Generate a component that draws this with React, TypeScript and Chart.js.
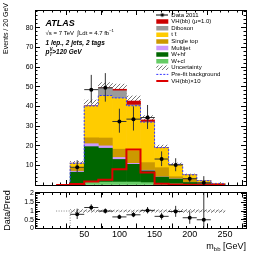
import React, { useEffect, useRef } from 'react';
import { Chart, registerables } from 'chart.js';

Chart.register(...registerables);

const FONT = "'Liberation Sans', Arial, Helvetica, sans-serif";

// ---------------- data ----------------
const binCenters = [40, 60, 80, 100, 120, 140, 160, 180, 200, 220, 240];
const binHalfWidth = 10;
const xRange = [10, 250];
const mainYRange = [0, 89];
const ratioYRange = [0, 2.06];

const wcl = [0.5, 1.5, 1.5, 1.5, 1.5, 1.2, 0.8, 0.6, 0.3, 0.2, 0.1];
const whf = [6.0, 18.0, 17.2, 11.5, 9.0, 6.0, 3.2, 2.4, 1.0, 0.5, 0.2];
const multijet = [0.5, 1.5, 1.2, 1.0, 0.5, 0.3, 0.1, 0.1, 0.0, 0.0, 0.0];
const singleTop = [1.5, 3.0, 4.0, 4.2, 6.2, 3.9, 4.7, 1.1, 2.0, 0.6, 0.2];
const ttbar = [2.3, 16.0, 21.3, 25.8, 23.0, 20.4, 10.0, 6.2, 1.8, 0.8, 0.3];
const diboson = [0.3, 0.3, 4.2, 3.9, 0.5, 0.2, 0.1, 0.1, 0.1, 0.1, 0.0];
const vhSignal = [0.0, 0.1, 0.1, 0.8, 2.0, 1.1, 0.1, 0.0, 0.0, 0.0, 0.0];
const bkgUncertainty = [0.9, 2.8, 2.6, 2.6, 2.6, 2.2, 1.3, 0.7, 0.4, 0.15, 0.06];
const prefitBackground = [11.0, 40.2, 45.5, 44.3, 40.3, 32.0, 19.0, 10.5, 5.2, 2.2, 0.8];
const vhTimes10 = [0.5, 1.8, 2.7, 8.0, 18.0, 6.4, 0.6, 0.2, 0.1, 0.1, 0.1];

const dataCenters = [40, 60, 80, 100, 120, 140, 160, 180, 200, 220];
const dataValues = [9.0, 48.5, 49.4, 32.3, 33.5, 34.3, 13.2, 10.2, 3.2, 1.1];
const dataErrUp = [3.6, 7.5, 7.5, 6.5, 6.5, 6.4, 3.9, 3.4, 1.9, 3.4];
const dataErrDown = [3.0, 7.0, 7.0, 5.7, 5.8, 5.8, 3.6, 3.2, 1.8, 1.0];

// ---------------- ticks ----------------
const xMajorTicks = [50, 100, 150, 200, 250];
const xMinorTicks = [20, 30, 40, 50, 60, 70, 80, 90, 100, 110, 120, 130, 140, 150, 160, 170, 180, 190, 200, 210, 220, 230, 240];
const mainYMajorTicks = [0, 10, 20, 30, 40, 50, 60, 70, 80];
const mainYMinorTicks = [2, 4, 6, 8, 10, 12, 14, 16, 18, 20, 22, 24, 26, 28, 30, 32, 34, 36, 38, 40, 42, 44, 46, 48, 50, 52, 54, 56, 58, 60, 62, 64, 66, 68, 70, 72, 74, 76, 78, 80, 82, 84, 86, 88];
const ratioYMajorTicks = [0, 0.5, 1, 1.5, 2];
const ratioYMinorTicks = [0.1, 0.2, 0.3, 0.4, 0.5, 0.6, 0.7, 0.8, 0.9, 1.0, 1.1, 1.2, 1.3, 1.4, 1.5, 1.6, 1.7, 1.8, 1.9, 2.0];

// ---------------- text ----------------
const legendLabels = ['Data 2011', 'VH(bb) (\u03bc=1.0)', 'Diboson', 't t\u0304', 'Single top', 'Multijet', 'W+hf', 'W+cl', 'Uncertainty', 'Pre-fit background', 'VH(bb)\u00d710'];
const atlasLabel = 'ATLAS';
const energyLabel = '\u221as = 7 TeV  \u222bLdt = 4.7 fb';
const channelLabel = '1 lep., 2 jets, 2 tags';
const yTitleMain = 'Events / 20 GeV';
const yTitleRatio = 'Data/Pred';

const COL = {
  vh: '#cc0000',
  diboson: '#9a9a9a',
  ttbar: '#ffcc00',
  stop: '#cc9900',
  multijet: '#cc99ff',
  whf: '#006600',
  wcl: '#66cc66',
  prefit: '#3333ff',
  vh10: '#dd0000',
};

// ---------------- helpers ----------------
const setTicks = (values: number[]) => (scale: any) => {
  scale.ticks = values.map((v) => ({ value: v }));
};
const tickGrid = (len: number) => ({ display: true, drawOnChartArea: false, drawTicks: true, tickLength: len, color: '#000', lineWidth: 1 });
const noTickGrid = { display: true, drawOnChartArea: false, drawTicks: false, color: '#000', lineWidth: 1 };
const frameBorder = (show: boolean) => ({ display: show, color: '#000', width: 1 });

// an axis drawing only inward tick marks (no labels, zero size in the layout)
function markAxis(position: string, min: number, max: number, ticks: number[], len: number, border: boolean, weight: number) {
  const horizontal = position === 'top' || position === 'bottom';
  return {
    type: 'linear',
    axis: horizontal ? 'x' : 'y',
    position,
    min,
    max,
    bounds: 'data',
    weight,
    z: 1,
    display: true,
    afterBuildTicks: setTicks(ticks),
    afterFit: (s: any) => {
      if (horizontal) s.height = 0;
      else s.width = 0;
    },
    ticks: { display: false },
    grid: tickGrid(len),
    border: frameBorder(border),
  };
}

type Part = { text: string; size: number; font?: string; dy?: number; advance?: boolean };
function drawParts(ctx: CanvasRenderingContext2D, parts: Part[], x: number, y: number, align: 'left' | 'right' = 'left') {
  const widths = parts.map((p) => {
    ctx.font = `${p.font || ''} ${p.size}px ${FONT}`;
    return ctx.measureText(p.text).width;
  });
  const total = parts.reduce((s, p, i) => s + (p.advance === false ? 0 : widths[i]), 0);
  let cx = align === 'right' ? x - total : x;
  ctx.textAlign = 'left';
  parts.forEach((p, i) => {
    ctx.font = `${p.font || ''} ${p.size}px ${FONT}`;
    ctx.fillText(p.text, cx, y + (p.dy || 0));
    if (p.advance !== false) cx += widths[i];
  });
}

function makeHatch(color: string) {
  const c = document.createElement('canvas');
  c.width = 4;
  c.height = 4;
  const g = c.getContext('2d')!;
  g.strokeStyle = color;
  g.lineWidth = 0.8;
  g.beginPath();
  g.moveTo(0, 4);
  g.lineTo(4, 0);
  g.moveTo(-1, 1);
  g.lineTo(1, -1);
  g.moveTo(3, 5);
  g.lineTo(5, 3);
  g.stroke();
  return g.createPattern(c, 'repeat');
}

function makeDataIcon() {
  const c = document.createElement('canvas');
  c.width = 12;
  c.height = 5;
  const g = c.getContext('2d')!;
  g.fillStyle = '#000';
  g.fillRect(0, 2, 12, 1);
  g.beginPath();
  g.arc(6, 2.5, 1.8, 0, Math.PI * 2);
  g.fill();
  return c;
}

function stepPoints(vals: number[], startX: number, closeToZero: boolean) {
  const pts: any[] = [{ x: startX, y: 0 }];
  binCenters.forEach((c, i) => pts.push({ x: c - binHalfWidth, y: vals[i] }));
  const last = binCenters.length - 1;
  pts.push({ x: binCenters[last] + binHalfWidth, y: vals[last] });
  if (closeToZero) pts.push({ x: binCenters[last] + binHalfWidth, y: 0 });
  return pts;
}

function errorSegments(centers: number[], vals: number[], up: number[], down: number[]) {
  const pts: any[] = [];
  centers.forEach((c, i) => {
    pts.push({ x: c, y: vals[i] - down[i] }, { x: c, y: vals[i] + up[i] }, { x: c, y: null });
    pts.push({ x: c - binHalfWidth, y: vals[i] }, { x: c + binHalfWidth, y: vals[i] }, { x: c, y: null });
  });
  return pts;
}

const legendPlacer = {
  id: 'legendPlacer',
  afterLayout(chart: any) {
    const lg = chart.legend;
    if (!lg) return;
    lg.left = 155.7;
    lg.top = 11.4;
    lg.right = chart.chartArea.right;
    lg.bottom = chart.chartArea.bottom;
    lg.width = lg.right - lg.left;
    lg.height = lg.bottom - lg.top;
  },
};

const mainTextPlugin = {
  id: 'mainText',
  afterDraw(chart: any) {
    const ctx: CanvasRenderingContext2D = chart.ctx;
    ctx.save();
    ctx.fillStyle = '#000';
    ctx.textBaseline = 'alphabetic';
    drawParts(ctx, [{ text: atlasLabel, size: 9, font: 'italic bold' }], 45.5, 25.5);
    drawParts(ctx, [{ text: energyLabel, size: 6 }, { text: '\u22121', size: 4.2, dy: -2.7 }], 45.5, 34.5);
    drawParts(ctx, [{ text: channelLabel, size: 6.5, font: 'italic bold' }], 45.5, 44.5);
    drawParts(
      ctx,
      [
        { text: 'p', size: 6.5, font: 'italic bold' },
        { text: 'V', size: 4.5, font: 'italic bold', dy: -3, advance: false },
        { text: 'T', size: 4.5, font: 'italic bold', dy: 1.5 },
        { text: '>120 GeV', size: 6.5, font: 'italic bold' },
      ],
      45.5,
      54
    );
    ctx.translate(6.5, 3);
    ctx.rotate(-Math.PI / 2);
    ctx.textAlign = 'right';
    ctx.textBaseline = 'middle';
    ctx.font = `7px ${FONT}`;
    ctx.fillText(yTitleMain, 0, 0);
    ctx.restore();
  },
};

const ratioTextPlugin = {
  id: 'ratioText',
  afterDraw(chart: any) {
    const ctx: CanvasRenderingContext2D = chart.ctx;
    ctx.save();
    ctx.fillStyle = '#000';
    ctx.textBaseline = 'alphabetic';
    drawParts(
      ctx,
      [
        { text: 'm', size: 9 },
        { text: 'bb', size: 6, dy: 2 },
        { text: ' [GeV]', size: 9 },
      ],
      246,
      61,
      'right'
    );
    ctx.restore();
  },
};

function frameScales(yMin: number, yMax: number, yMajor: number[], yMinor: number[], xMajorLen: number) {
  return {
    xMajor: markAxis('bottom', xRange[0], xRange[1], xMajorTicks, xMajorLen, false, 0),
    xMinor: markAxis('bottom', xRange[0], xRange[1], xMinorTicks, xMajorLen / 2, false, 0),
    xTop: markAxis('top', xRange[0], xRange[1], xMajorTicks, xMajorLen, true, 1),
    xTopMinor: markAxis('top', xRange[0], xRange[1], xMinorTicks, xMajorLen / 2, false, 0),
    yMajor: markAxis('left', yMin, yMax, yMajor, -5, false, 2),
    yMinor: markAxis('left', yMin, yMax, yMinor, -2.5, false, 1),
    yRight: markAxis('right', yMin, yMax, yMajor, -5, true, 0),
    yRightMinor: markAxis('right', yMin, yMax, yMinor, -2.5, false, 1),
  };
}

export default function App() {
  const mainRef = useRef<HTMLCanvasElement | null>(null);
  const ratioRef = useRef<HTMLCanvasElement | null>(null);

  useEffect(() => {
    if (!mainRef.current || !ratioRef.current) return;
    Chart.defaults.font.family = FONT;
    const hatch = makeHatch('#555555');
    const dataIcon = makeDataIcon();

    const total = binCenters.map(
      (_, i) => wcl[i] + whf[i] + multijet[i] + singleTop[i] + ttbar[i] + diboson[i] + vhSignal[i]
    );

    const barCommon = {
      type: 'bar',
      xAxisID: 'x',
      grouped: false,
      barPercentage: 1,
      categoryPercentage: 1,
      borderWidth: 0,
    };

    const stackDefs = [
      { label: 'W+cl', values: wcl, color: COL.wcl },
      { label: 'W+hf', values: whf, color: COL.whf },
      { label: 'Multijet', values: multijet, color: COL.multijet },
      { label: 'Single top', values: singleTop, color: COL.stop },
      { label: 'ttbar', values: ttbar, color: COL.ttbar },
      { label: 'Diboson', values: diboson, color: COL.diboson },
      { label: 'VH', values: vhSignal, color: COL.vh },
    ];

    const stackDatasets = stackDefs.map((d, k) => ({
      ...barCommon,
      label: d.label,
      yAxisID: 'y',
      order: 10 + k,
      backgroundColor: d.color,
      data: binCenters.map((c, i) => ({ x: c, y: d.values[i] })),
    }));

    const legendItems = [
      { text: legendLabels[0], pointStyle: dataIcon, fillStyle: 'rgba(0,0,0,0)', strokeStyle: '#000', lineWidth: 0 },
      { text: legendLabels[1], pointStyle: 'rect', fillStyle: COL.vh, strokeStyle: COL.vh, lineWidth: 0 },
      { text: legendLabels[2], pointStyle: 'rect', fillStyle: COL.diboson, strokeStyle: COL.diboson, lineWidth: 0 },
      { text: legendLabels[3], pointStyle: 'rect', fillStyle: COL.ttbar, strokeStyle: COL.ttbar, lineWidth: 0 },
      { text: legendLabels[4], pointStyle: 'rect', fillStyle: COL.stop, strokeStyle: COL.stop, lineWidth: 0 },
      { text: legendLabels[5], pointStyle: 'rect', fillStyle: COL.multijet, strokeStyle: COL.multijet, lineWidth: 0 },
      { text: legendLabels[6], pointStyle: 'rect', fillStyle: COL.whf, strokeStyle: COL.whf, lineWidth: 0 },
      { text: legendLabels[7], pointStyle: 'rect', fillStyle: COL.wcl, strokeStyle: COL.wcl, lineWidth: 0 },
      { text: legendLabels[8], pointStyle: 'rect', fillStyle: hatch, strokeStyle: '#555', lineWidth: 0 },
      { text: legendLabels[9], pointStyle: 'line', fillStyle: COL.prefit, strokeStyle: COL.prefit, lineWidth: 1, lineDash: [2, 1.5] },
      { text: legendLabels[10], pointStyle: 'line', fillStyle: COL.vh10, strokeStyle: COL.vh10, lineWidth: 2 },
    ].map((it, i) => ({ fontColor: '#000', hidden: false, datasetIndex: 0, index: i, ...it }));

    const mainChart = new Chart(mainRef.current, {
      type: 'bar',
      data: {
        datasets: [
          {
            type: 'line',
            label: 'Data 2011',
            xAxisID: 'x',
            yAxisID: 'y2',
            order: 0,
            showLine: false,
            pointRadius: 2,
            pointBackgroundColor: '#000',
            pointBorderColor: '#000',
            pointBorderWidth: 0,
            data: dataCenters.map((c, i) => ({ x: c, y: dataValues[i] })),
          },
          {
            type: 'line',
            label: 'data errors',
            xAxisID: 'x',
            yAxisID: 'y2',
            order: 1,
            borderColor: '#333',
            borderWidth: 1,
            pointRadius: 0,
            spanGaps: false,
            data: errorSegments(dataCenters, dataValues, dataErrUp, dataErrDown),
          },
          {
            type: 'line',
            label: 'VH x10',
            xAxisID: 'x',
            yAxisID: 'y2',
            order: 2,
            stepped: true,
            borderColor: COL.vh10,
            borderWidth: 2,
            pointRadius: 0,
            fill: false,
            data: stepPoints(vhTimes10, xRange[0], false),
          },
          {
            type: 'line',
            label: 'Pre-fit',
            xAxisID: 'x',
            yAxisID: 'y2',
            order: 3,
            stepped: true,
            borderColor: COL.prefit,
            borderWidth: 1,
            borderDash: [2, 1.5],
            pointRadius: 0,
            fill: false,
            data: stepPoints(prefitBackground, 30, true),
          },
          ...stackDatasets,
          {
            ...barCommon,
            label: 'Uncertainty',
            yAxisID: 'y2',
            order: 30,
            backgroundColor: hatch,
            data: binCenters.map((c, i) => ({ x: c, y: [total[i] - bkgUncertainty[i], total[i] + bkgUncertainty[i]] })),
          },
        ] as any,
      },
      options: {
        responsive: false,
        animation: false,
        events: [],
        layout: { padding: { left: 0, right: 20, top: 10, bottom: 2 } },
        plugins: {
          tooltip: { enabled: false },
          legend: {
            display: true,
            position: 'chartArea',
            align: 'start',
            labels: {
              usePointStyle: true,
              pointStyleWidth: 12,
              boxHeight: 4.5,
              padding: 0.6,
              color: '#000',
              font: { family: FONT, size: 6 },
              generateLabels: () => legendItems,
            },
          },
        },
        scales: {
          x: {
            type: 'linear',
            position: 'bottom',
            min: xRange[0],
            max: xRange[1],
            bounds: 'data',
            weight: 1,
            z: 1,
            afterBuildTicks: setTicks(xMajorTicks),
            afterFit: (s: any) => {
              s.height = 0;
            },
            ticks: { display: false },
            grid: noTickGrid,
            border: frameBorder(true),
          },
          y: {
            type: 'linear',
            position: 'left',
            stacked: true,
            min: mainYRange[0],
            max: mainYRange[1],
            bounds: 'data',
            weight: 3,
            z: 1,
            afterBuildTicks: setTicks(mainYMajorTicks),
            afterFit: (s: any) => {
              s.width = 35;
            },
            ticks: {
              display: true,
              autoSkip: false,
              padding: 1.5,
              color: '#000',
              font: { family: FONT, size: 7, lineHeight: 1 },
              callback: (v: any) => (v === 0 ? '' : String(v)),
            },
            grid: noTickGrid,
            border: frameBorder(true),
          },
          y2: { type: 'linear', position: 'left', display: false, min: mainYRange[0], max: mainYRange[1], bounds: 'data', weight: 0 },
          ...frameScales(mainYRange[0], mainYRange[1], mainYMajorTicks, mainYMinorTicks, -5),
        } as any,
      },
      plugins: [legendPlacer, mainTextPlugin],
    } as any);

    // ---------- ratio panel ----------
    const ratio = dataValues.map((v, i) => v / total[i]);
    const ratioUp = dataErrUp.map((e, i) => e / total[i]);
    const ratioDown = dataErrDown.map((e, i) => e / total[i]);
    const relUnc = bkgUncertainty.map((u, i) => u / total[i]);

    const ratioChart = new Chart(ratioRef.current, {
      type: 'bar',
      data: {
        datasets: [
          {
            type: 'line',
            label: 'ratio',
            xAxisID: 'x',
            yAxisID: 'y',
            order: 0,
            showLine: false,
            pointRadius: 2,
            pointBackgroundColor: '#000',
            pointBorderColor: '#000',
            pointBorderWidth: 0,
            data: dataCenters.map((c, i) => ({ x: c, y: ratio[i] })),
          },
          {
            type: 'line',
            label: 'ratio errors',
            xAxisID: 'x',
            yAxisID: 'y',
            order: 1,
            borderColor: '#333',
            borderWidth: 1,
            pointRadius: 0,
            spanGaps: false,
            data: errorSegments(dataCenters, ratio, ratioUp, ratioDown),
          },
          {
            type: 'line',
            label: 'unity',
            xAxisID: 'x',
            yAxisID: 'y',
            order: 5,
            borderColor: '#888',
            borderWidth: 1,
            borderDash: [1, 1.5],
            pointRadius: 0,
            spanGaps: false,
            data: [
              { x: xRange[0], y: 1 },
              { x: xRange[1], y: 1 },
              { x: 30, y: null },
              { x: 30, y: 0 },
              { x: 30, y: 1 },
            ],
          },
          {
            ...barCommon,
            label: 'band',
            yAxisID: 'y',
            order: 30,
            backgroundColor: hatch,
            data: binCenters.map((c, i) => ({ x: c, y: [1 - relUnc[i], 1 + relUnc[i]] })),
          },
        ] as any,
      },
      options: {
        responsive: false,
        animation: false,
        events: [],
        layout: { padding: { left: 0, right: 20, top: 4.5, bottom: 0 } },
        plugins: { tooltip: { enabled: false }, legend: { display: false } },
        scales: {
          x: {
            type: 'linear',
            position: 'bottom',
            min: xRange[0],
            max: xRange[1],
            bounds: 'data',
            weight: 1,
            z: 1,
            afterBuildTicks: setTicks(xMajorTicks),
            afterFit: (s: any) => {
              s.height = 26.5;
            },
            ticks: {
              display: true,
              autoSkip: false,
              maxRotation: 0,
              padding: 2,
              color: '#000',
              font: { family: FONT, size: 9, lineHeight: 1 },
              callback: (v: any) => String(v),
            },
            grid: noTickGrid,
            border: frameBorder(true),
          },
          y: {
            type: 'linear',
            position: 'left',
            min: ratioYRange[0],
            max: ratioYRange[1],
            bounds: 'data',
            weight: 3,
            z: 1,
            afterBuildTicks: setTicks(ratioYMajorTicks),
            afterFit: (s: any) => {
              s.width = 35;
            },
            ticks: {
              display: true,
              autoSkip: false,
              padding: 1,
              color: '#000',
              font: { family: FONT, size: 7, lineHeight: 1 },
              callback: (v: any) => String(v),
            },
            grid: noTickGrid,
            border: frameBorder(true),
            title: {
              display: true,
              text: yTitleRatio,
              align: 'center',
              color: '#000',
              font: { family: FONT, size: 9 },
              padding: { top: 2.5, bottom: 0 },
            },
          },
          ...frameScales(ratioYRange[0], ratioYRange[1], ratioYMajorTicks, ratioYMinorTicks, -5),
        } as any,
      },
      plugins: [ratioTextPlugin],
    } as any);

    return () => {
      mainChart.destroy();
      ratioChart.destroy();
    };
  }, []);

  return (
    <div style={{ position: 'absolute', left: 0, top: 0, width: 266, height: 255, background: '#fff' }}>
      <canvas ref={mainRef} width={266} height={190} style={{ position: 'absolute', left: 0, top: 0 }} />
      <canvas ref={ratioRef} width={266} height={67} style={{ position: 'absolute', left: 0, top: 188 }} />
    </div>
  );
}
